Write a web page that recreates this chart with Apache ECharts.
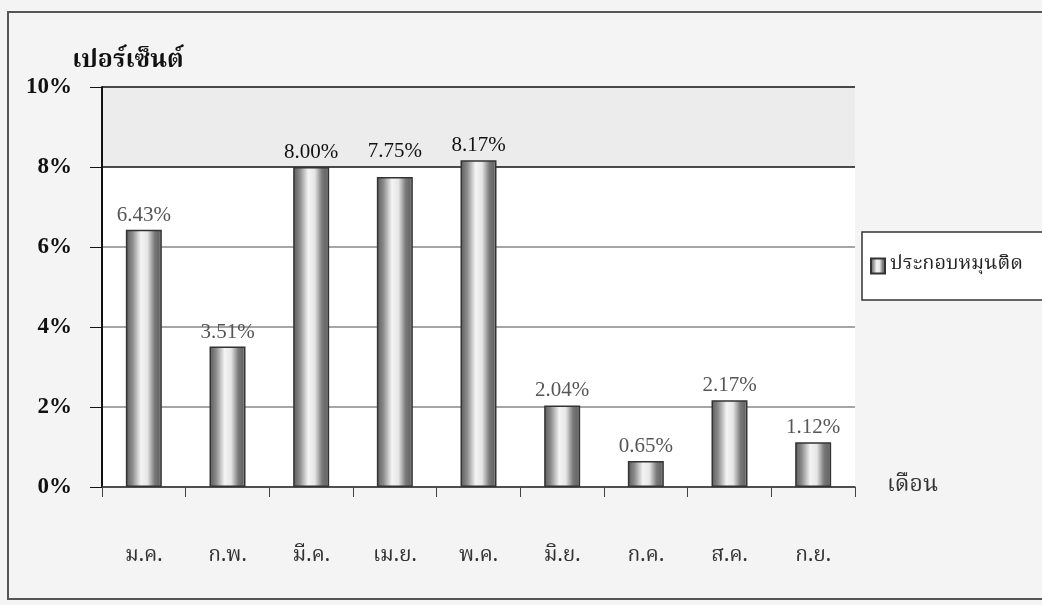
<!DOCTYPE html>
<html>
<head>
<meta charset="utf-8">
<script src="https://cdn.jsdelivr.net/npm/echarts@6/dist/echarts.min.js"></script>
<style>
  html, body { margin: 0; padding: 0; background: #f4f4f4; }
  #chart { width: 1042px; height: 605px; }
</style>
</head>
<body>
<div id="chart"></div>
<script>
const months = ["ม.ค.", "ก.พ.", "มี.ค.", "เม.ย.", "พ.ค.", "มิ.ย.", "ก.ค.", "ส.ค.", "ก.ย."];
const percent = [6.43, 3.51, 8.0, 7.75, 8.17, 2.04, 0.65, 2.17, 1.12];
const seriesName = "ประกอบหมุนติด";
const yTicks = [0, 2, 4, 6, 8, 10];

const thai = "'Noto Serif Thai', 'Noto Sans Thai', 'Loma', 'Garuda', 'DejaVu Sans', sans-serif";
const serif = "'Liberation Serif', 'DejaVu Serif', serif";

const barFill = new echarts.graphic.LinearGradient(0, 0, 1, 0, [
  { offset: 0, color: "#5a5a5a" },
  { offset: 0.18, color: "#8a8a8a" },
  { offset: 0.42, color: "#f4f4f4" },
  { offset: 0.6, color: "#e6e6e6" },
  { offset: 0.8, color: "#7a7a7a" },
  { offset: 0.92, color: "#666" },
  { offset: 1, color: "#bbb" },
]);

const chart = echarts.init(document.getElementById("chart"));
chart.setOption({
  backgroundColor: "#f4f4f4",
  animation: false,
  graphic: [
    {
      type: "rect",
      shape: { x: 8, y: 12, width: 1040, height: 587 },
      style: { fill: "none", stroke: "#555", lineWidth: 2 },
      silent: true,
    },
  ],
  legend: {
    left: 862,
    top: 232,
    orient: "vertical",
    padding: [24, 30, 24, 8],
    backgroundColor: "#fff",
    borderColor: "#333",
    borderWidth: 1.5,
    icon: "rect",
    itemWidth: 14,
    itemHeight: 15,
    itemGap: 6,
    textStyle: { fontFamily: thai, fontSize: 20, color: "#222" },
    data: [seriesName],
  },
  grid: { left: 102, right: 187, top: 87, bottom: 118 },
  xAxis: {
    type: "category",
    data: months,
    name: "เดือน",
    nameLocation: "end",
    nameGap: 32,
    nameTextStyle: { fontFamily: thai, fontSize: 23, color: "#333", padding: [18, 0, 0, 0] },
    axisLine: { lineStyle: { color: "#444", width: 1.5 } },
    axisTick: { show: true, alignWithLabel: false, length: 10, lineStyle: { color: "#444" } },
    axisLabel: { margin: 60, fontFamily: thai, fontSize: 21, color: "#333" },
  },
  yAxis: {
    type: "value",
    min: 0,
    max: 10,
    interval: 2,
    name: "เปอร์เซ็นต์",
    nameLocation: "end",
    nameGap: 12,
    nameTextStyle: { fontFamily: thai, fontSize: 25, fontWeight: "bold", color: "#111", align: "center", padding: [0, 0, 0, 52] },
    axisLine: { show: true, lineStyle: { color: "#111", width: 2 } },
    axisTick: { show: true, length: 12, lineStyle: { color: "#111" } },
    axisLabel: {
      margin: 30,
      fontFamily: serif,
      fontWeight: "bold",
      fontSize: 23,
      color: "#111",
      formatter: (v) => (yTicks.includes(v) ? v + "%" : ""),
    },
    splitLine: {
      lineStyle: { color: ["#444", "#888", "#888", "#888", "#111", "#111"], width: 1.5 },
    },
    splitArea: {
      show: true,
      areaStyle: { color: ["#fff", "#fff", "#fff", "#fff", "#ececec"] },
    },
  },
  series: [
    {
      name: seriesName,
      type: "bar",
      barWidth: "43%",
      data: percent.map((v) => ({
        value: v,
        // labels just under the 8% line sit above it, as in the original
        label: { color: v > 7 ? "#111" : "#555", distance: v > 7 && v < 8 ? 15 : 4 },
      })),
      itemStyle: { color: barFill, borderColor: "#333", borderWidth: 1.5 },
      label: {
        show: true,
        position: "top",
        fontFamily: serif,
        fontSize: 21,
        formatter: (p) => p.value.toFixed(2) + "%",
      },
    },
  ],
});
</script>
</body>
</html>
